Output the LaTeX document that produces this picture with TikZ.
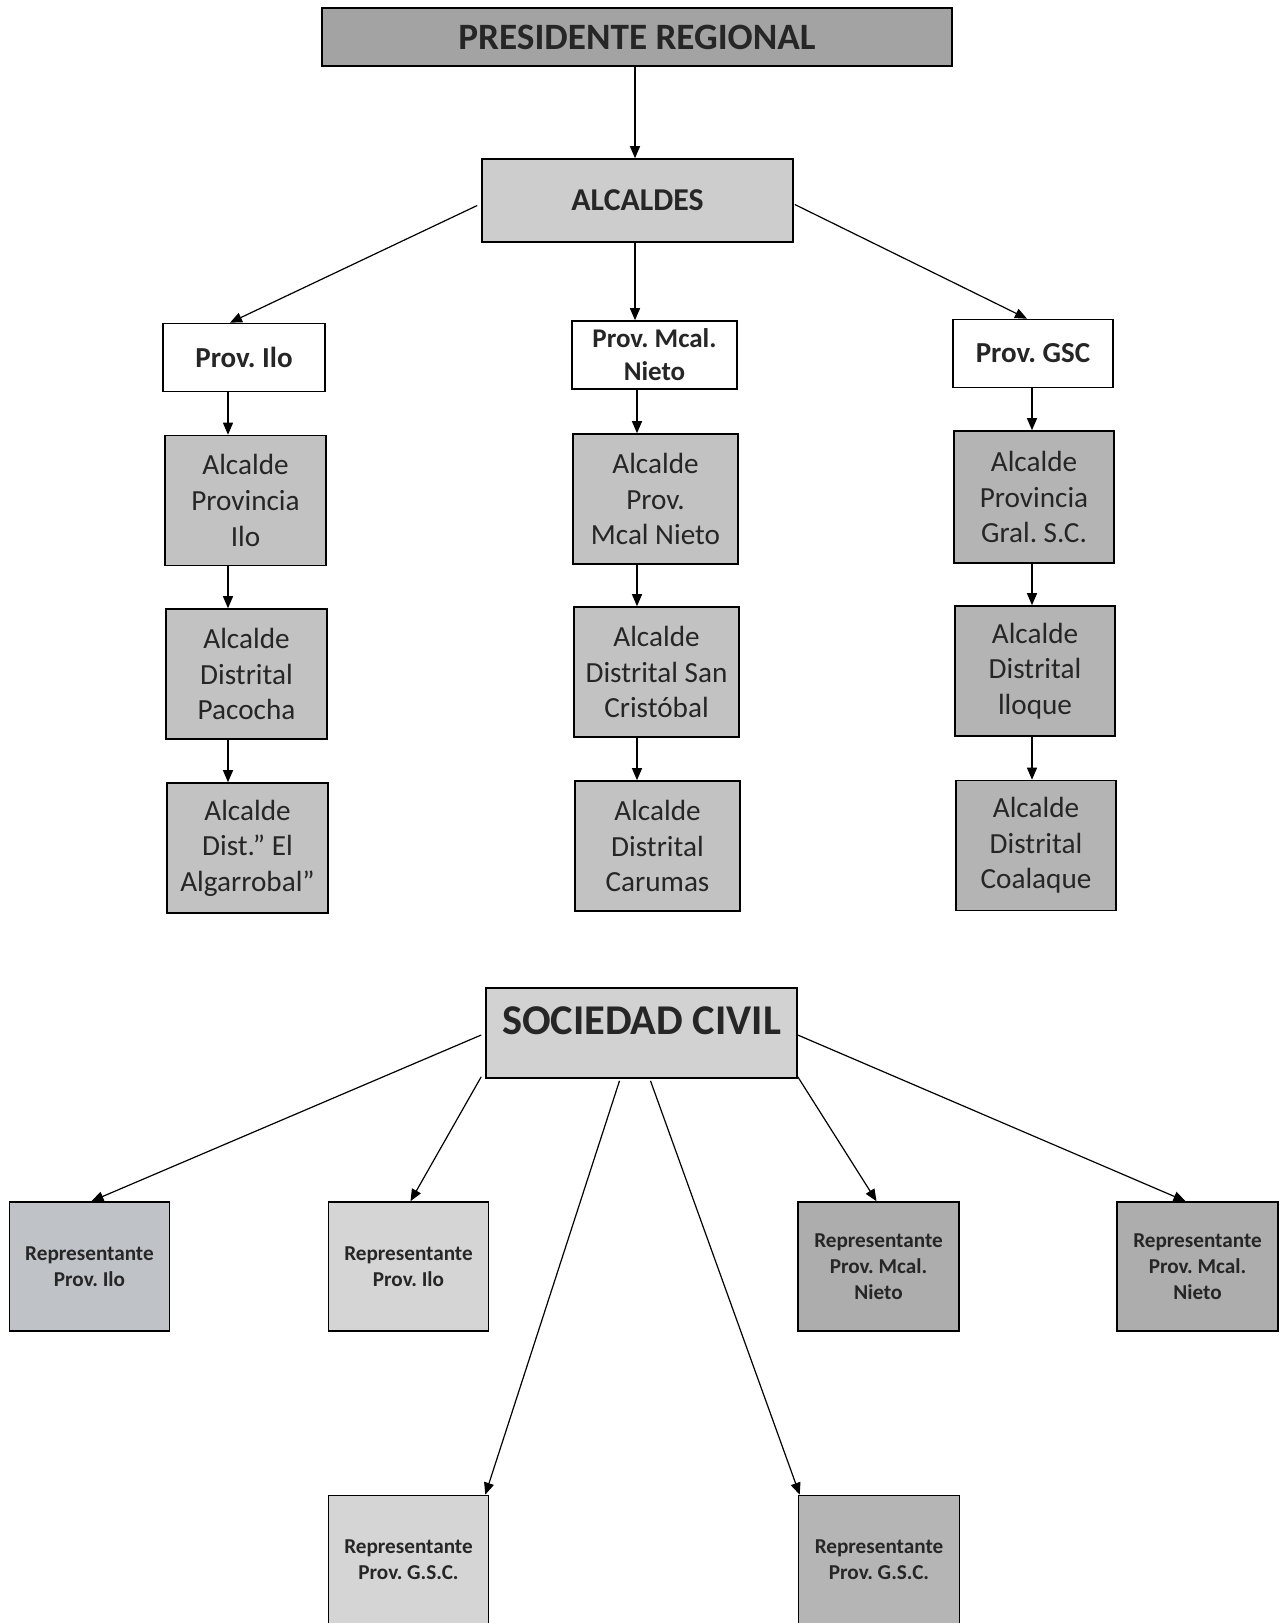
\documentclass[tikz,border=0pt]{standalone}
\usepackage{fontspec}
\setmainfont{Carlito}
\usetikzlibrary{arrows.meta,calc}
\definecolor{presfill}{HTML}{A3A3A3}
\definecolor{alcfill}{HTML}{CDCDCD}
\definecolor{colfill}{HTML}{C2C2C2}
\definecolor{gscfill}{HTML}{B4B4B4}
\definecolor{socfill}{HTML}{D2D2D2}
\definecolor{repA}{HTML}{BFC2C6}
\definecolor{repB}{HTML}{D5D5D5}
\definecolor{repC}{HTML}{ADADAD}
\frenchspacing
\tikzset{
  box/.style={draw=black, line width=0.8pt, inner sep=1pt, align=center, text=black!85},
  head/.style={box, font=\bfseries},
  provbox/.style={box, fill=white, font=\bfseries\fontsize{14.5}{16}\selectfont, minimum width=81pt, minimum height=34pt},
  colbox/.style={box, fill=colfill, font=\fontsize{14.6}{17.8}\selectfont, minimum width=80.5pt, minimum height=65pt},
  repbox/.style={box, font=\bfseries\fontsize{10.6}{13}\selectfont, minimum width=80pt, minimum height=64.5pt},
  arr/.style={draw=black, line width=0.6pt, -{Triangle[length=6pt,width=5pt]}}
}
\begin{document}
\begin{tikzpicture}[x=0.5pt,y=-0.5pt]
\clip (0,0) rectangle (1282,1623);
\fill[white] (0,0) rectangle (1282,1623);
% top
\node[head, fill=presfill, minimum width=315pt, minimum height=29pt, font=\bfseries\fontsize{18.6}{20}\selectfont] (pres) at (637,37) {PRESIDENTE REGIONAL};
\node[head, fill=alcfill, minimum width=155.5pt, minimum height=41.5pt, font=\bfseries\fontsize{15.9}{18}\selectfont] (alc) at (637.5,200.5) {ALCALDES};
% provinces
\node[provbox] (pilo) at (244,357.5) {Prov. Ilo};
\node[provbox, minimum width=82.5pt, font=\bfseries\fontsize{13.5}{16.5}\selectfont] (pmcal) at (654.5,355) {Prov. Mcal.\\Nieto};
\node[provbox, minimum width=80pt] (pgsc) at (1033,353.5) {Prov. GSC};
% columns
\node[colbox] (a1) at (245.5,500.5) {Alcalde\\Provincia\\Ilo};
\node[colbox] (a2) at (246.5,674) {Alcalde\\Distrital\\Pacocha};
\node[colbox] (a3) at (247.5,848) {Alcalde\\Dist.” El\\Algarrobal”};
\node[colbox, minimum width=82.5pt] (m1) at (655.5,499) {Alcalde\\Prov.\\Mcal Nieto};
\node[colbox, minimum width=82.5pt] (m2) at (656.5,672) {Alcalde\\Distrital San\\Cristóbal};
\node[colbox, minimum width=82.5pt] (m3) at (657.5,846) {Alcalde\\Distrital\\Carumas};
\node[colbox, fill=gscfill, minimum width=80pt, minimum height=66pt] (g1) at (1034,497) {Alcalde\\Provincia\\Gral. S.C.};
\node[colbox, fill=gscfill, minimum width=80pt] (g2) at (1035,671) {Alcalde\\Distrital\\lloque};
\node[colbox, fill=gscfill, minimum width=80pt] (g3) at (1036,845.5) {Alcalde\\Distrital\\Coalaque};
% sociedad civil
\node[head, fill=socfill, minimum width=155.5pt, minimum height=45pt, font=\bfseries\fontsize{21.2}{24}\selectfont] (soc) at (641.5,1033) {\raisebox{6pt}[\height][\depth]{SOCIEDAD CIVIL}};
\node[repbox, fill=repA] (r1) at (89.5,1266.5) {Representante\\Prov. Ilo};
\node[repbox, fill=repB] (r2) at (408.5,1266.5) {Representante\\Prov. Ilo};
\node[repbox, fill=repC, minimum width=80.5pt] (r3) at (878.5,1266.5) {Representante\\Prov. Mcal.\\Nieto};
\node[repbox, fill=repC, minimum width=80.5pt] (r4) at (1197.5,1266.5) {Representante\\Prov. Mcal.\\Nieto};
\node[repbox, fill=repB] (r5) at (408.5,1560) {Representante\\Prov. G.S.C.};
\node[repbox, fill=repC!80!repB, minimum width=80.5pt] (r6) at (879,1560) {Representante\\Prov. G.S.C.};
% column guide coordinates
\coordinate (cA) at (228,0);
\coordinate (cM) at (637,0);
\coordinate (cG) at (1032,0);
\coordinate (cT) at (635,0);
% connectors top
\draw[arr] (pres.south -| cT) -- (alc.north -| cT);
\draw[arr] ($(alc.west)+(-4,5)$) -- ($(pilo.north)+(-14,0)$);
\draw[arr] (alc.south -| cT) -- (pmcal.north -| cT);
\draw[arr] ($(alc.east)+(1,4)$) -- ($(pgsc.north)+(-6,0)$);
\draw[arr] (pilo.south -| cA) -- (a1.north -| cA);
\draw[arr] (a1.south -| cA) -- (a2.north -| cA);
\draw[arr] (a2.south -| cA) -- (a3.north -| cA);
\draw[arr] (pmcal.south -| cM) -- (m1.north -| cM);
\draw[arr] (m1.south -| cM) -- (m2.north -| cM);
\draw[arr] (m2.south -| cM) -- (m3.north -| cM);
\draw[arr] (pgsc.south -| cG) -- (g1.north -| cG);
\draw[arr] (g1.south -| cG) -- (g2.north -| cG);
\draw[arr] (g2.south -| cG) -- (g3.north -| cG);
% connectors bottom
\draw[arr] ($(soc.west)+(-4,2)$) -- ($(r1.north)+(2,0)$);
\draw[arr] ($(soc.south west)+(-4,-2)$) -- ($(r2.north)+(2,0)$);
\draw[arr] ($(soc.south)+(-22,2)$) -- ($(r5.north east)+(-4,0)$);
\draw[arr] ($(soc.south)+(9,2)$) -- ($(r6.north west)+(2,0)$);
\draw[arr] ($(soc.south east)+(0,-2)$) -- ($(r3.north)+(-2,0)$);
\draw[arr] ($(soc.east)+(0,2)$) -- ($(r4.north)+(-12,0)$);
\end{tikzpicture}
\end{document}
